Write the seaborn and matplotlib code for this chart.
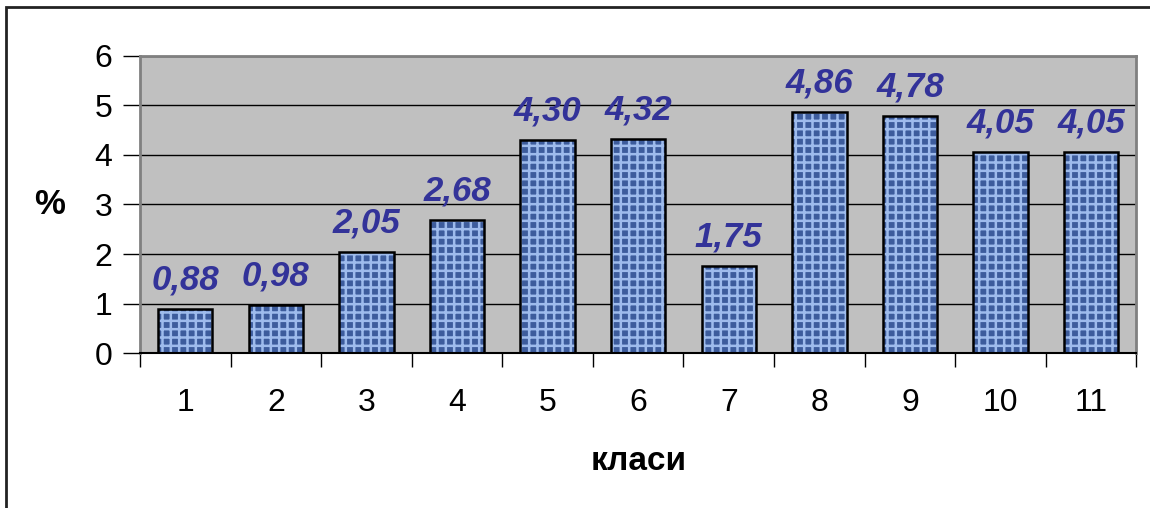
import matplotlib
matplotlib.use('Agg')
import matplotlib.pyplot as plt
import seaborn as sns
import pandas as pd
from matplotlib.patches import Rectangle

klasi = ['1', '2', '3', '4', '5', '6', '7', '8', '9', '10', '11']
procenti = [0.88, 0.98, 2.05, 2.68, 4.30, 4.32, 1.75, 4.86, 4.78, 4.05, 4.05]
etiketi = [f'{v:.2f}'.replace('.', ',') for v in procenti]

df = pd.DataFrame({'klasa': klasi, 'procent': procenti})

sns.set_style('white')
plt.rcParams['font.family'] = ['Liberation Sans', 'DejaVu Sans']
plt.rcParams['hatch.linewidth'] = 1.8
plt.rcParams['text.color'] = 'black'
plt.rcParams['axes.labelcolor'] = 'black'
plt.rcParams['xtick.color'] = 'black'
plt.rcParams['ytick.color'] = 'black'

fig = plt.figure(figsize=(11.5, 5.08), dpi=100)
ax = fig.add_axes([0.1217, 0.305, 0.8665, 0.585])
ax.set_facecolor('#c0c0c0')
ax.set_axisbelow(True)
ax.yaxis.grid(True, color='black', linewidth=1)

# textured fill layer
sns.barplot(data=df, x='klasa', y='procent', ax=ax, width=0.6,
            color='#3d5c9c', saturation=1, edgecolor='#9ebbec',
            linewidth=0, hatch='++')
for p in ax.patches:
    p.set_hatch('++')
# black outline layer
sns.barplot(data=df, x='klasa', y='procent', ax=ax, width=0.6,
            fill=False, edgecolor='black', linewidth=1.8)

ax.bar_label(ax.containers[0], labels=etiketi, padding=9,
             fontsize=25, fontweight='bold', fontstyle='italic',
             color='#333399')

ax.set_ylim(0, 6)
ax.set_xlim(-0.5, 10.5)
ax.set_yticks(range(0, 7))
ax.tick_params(axis='y', length=12, width=1, color='black', pad=8,
               labelsize=23, direction='out', left=True, labelcolor='black')
ax.set_xticks(range(11), klasi)
ax.set_xticks([i - 0.5 for i in range(12)], minor=True)
ax.tick_params(axis='x', which='major', length=0, pad=25, labelsize=23,
               labelcolor='black')
ax.tick_params(axis='x', which='minor', length=10, width=1,
               color='black', bottom=True, direction='out')

for s in ['left', 'top', 'right']:
    ax.spines[s].set_color('#808080')
    ax.spines[s].set_linewidth(2)
ax.spines['bottom'].set_color('black')
ax.spines['bottom'].set_linewidth(1.5)

ax.set_xlabel('класи', fontsize=24, fontweight='bold', labelpad=20,
              color='black')
ax.set_ylabel('%', fontsize=25, fontweight='bold', rotation=0,
              labelpad=32, va='center', color='black')

fig.add_artist(Rectangle((0.0052, -0.2), 1.2, 1.186,
                         transform=fig.transFigure, fill=False,
                         edgecolor='#222222', linewidth=2))

fig.savefig('out.png', dpi=100)
